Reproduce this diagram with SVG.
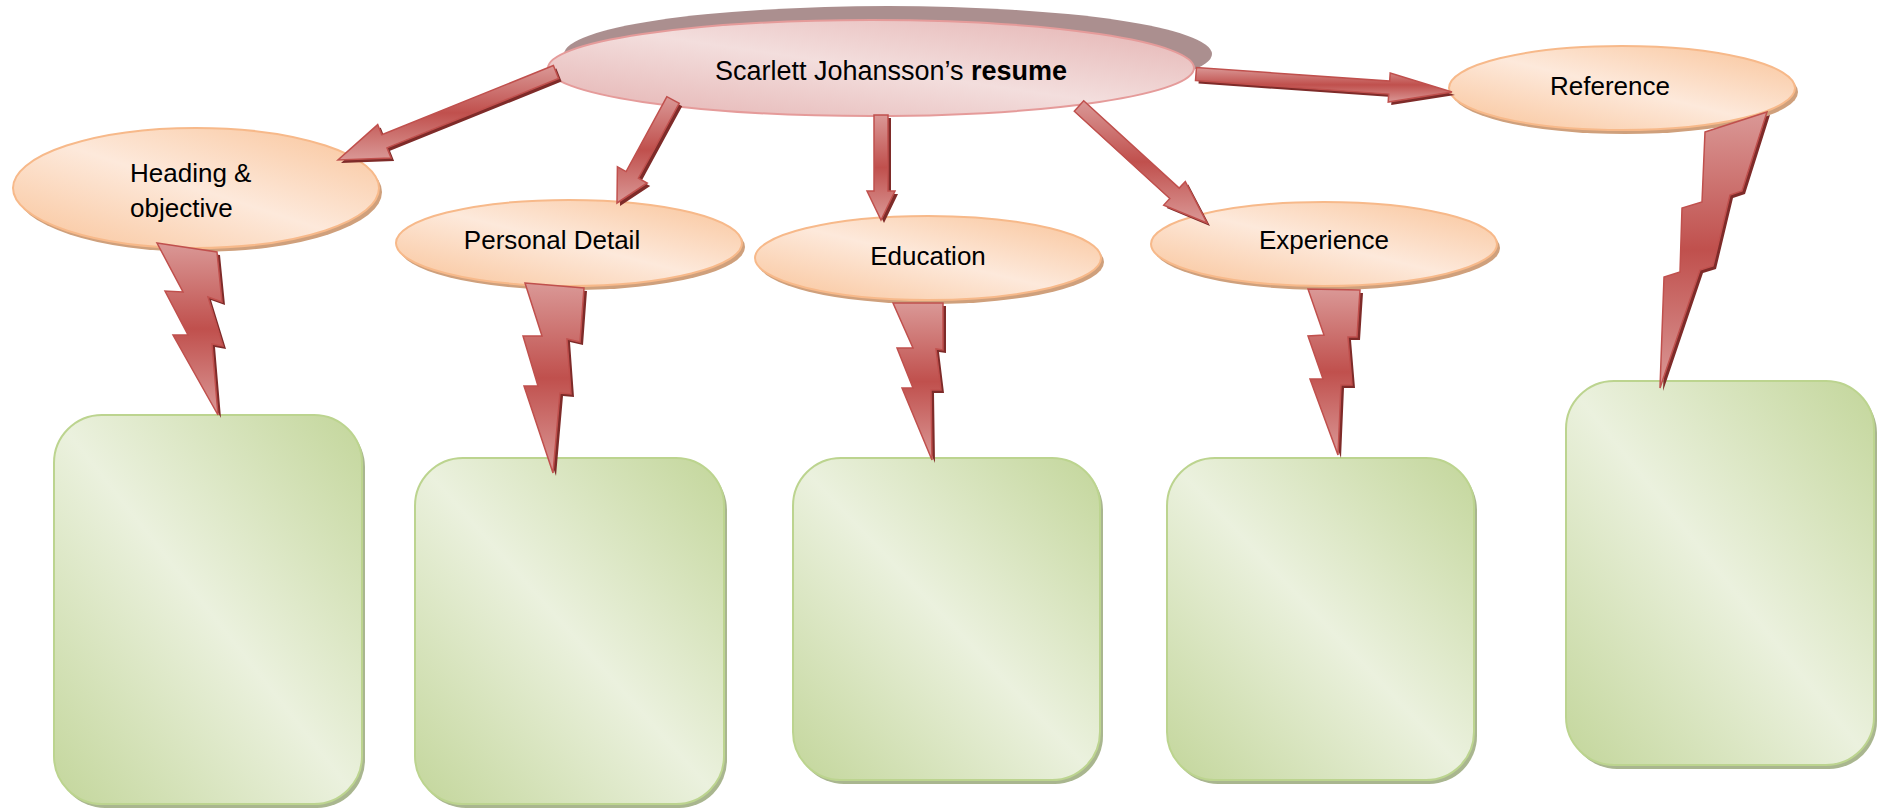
<svg xmlns="http://www.w3.org/2000/svg" width="1881" height="808" viewBox="0 0 1881 808">
<defs>
<linearGradient id="gOrange" x1="1" y1="0" x2="0" y2="1">
<stop offset="0" stop-color="#f9c398"/><stop offset="0.5" stop-color="#fde9db"/><stop offset="1" stop-color="#f9c398"/>
</linearGradient>
<linearGradient id="gGreen" x1="1" y1="0" x2="0" y2="1">
<stop offset="0" stop-color="#c3d69b"/><stop offset="0.5" stop-color="#ebf1de"/><stop offset="1" stop-color="#c3d69b"/>
</linearGradient>
<linearGradient id="gPink" x1="1" y1="0" x2="0" y2="1">
<stop offset="0" stop-color="#e4b1b0"/><stop offset="0.5" stop-color="#f3dedd"/><stop offset="1" stop-color="#e4b1b0"/>
</linearGradient>
<linearGradient id="gRed" x1="0" y1="0" x2="0" y2="1">
<stop offset="0" stop-color="#da9896"/><stop offset="0.5" stop-color="#c0504d"/><stop offset="1" stop-color="#da9896"/>
</linearGradient>
<style>
.oval{fill:url(#gOrange);stroke:#f7b98a;stroke-width:2}
.ovalsh{fill:#cfa07c}
.box{fill:url(#gGreen);stroke:#bcd48f;stroke-width:2}
.boxsh{fill:#a9b68f}
.red{fill:url(#gRed);stroke:#c0504d;stroke-width:1.5;stroke-linejoin:miter}
.redsh{fill:#7e2b29}
.lbl{font-family:"Liberation Sans",Arial,sans-serif;font-size:26px;fill:#000}
</style>
</defs>

<g id="node-main">
<ellipse cx="888" cy="54" rx="324" ry="48" fill="#ab8f8f"/>
<ellipse cx="871" cy="68" rx="323" ry="48" fill="url(#gPink)" stroke="#e59b9a" stroke-width="2"/>
<text x="891" y="80" text-anchor="middle" font-family="'Liberation Sans',Arial,sans-serif" font-size="27" fill="#000">Scarlett Johansson’s <tspan font-weight="bold">resume</tspan></text>
</g>

<g id="node-heading">
<ellipse class="ovalsh" cx="199" cy="192" rx="183" ry="60"/>
<ellipse class="oval" cx="196" cy="188" rx="183" ry="60"/>
<text class="lbl" x="130" y="182">Heading &amp;</text>
<text class="lbl" x="130" y="217">objective</text>
</g>

<g id="node-personal">
<ellipse class="ovalsh" cx="572" cy="247" rx="173" ry="43"/>
<ellipse class="oval" cx="569" cy="243" rx="173" ry="43"/>
<text class="lbl" x="552" y="249" text-anchor="middle">Personal Detail</text>
</g>

<g id="node-education">
<ellipse class="ovalsh" cx="931" cy="262" rx="173" ry="42"/>
<ellipse class="oval" cx="928" cy="258" rx="173" ry="42"/>
<text class="lbl" x="928" y="265" text-anchor="middle">Education</text>
</g>

<g id="node-experience">
<ellipse class="ovalsh" cx="1327" cy="248" rx="173" ry="42"/>
<ellipse class="oval" cx="1324" cy="244" rx="173" ry="42"/>
<text class="lbl" x="1324" y="249" text-anchor="middle">Experience</text>
</g>

<g id="node-reference">
<ellipse class="ovalsh" cx="1625" cy="92" rx="173" ry="42"/>
<ellipse class="oval" cx="1622" cy="88" rx="173" ry="42"/>
<text class="lbl" x="1610" y="95" text-anchor="middle">Reference</text>
</g>

<g id="box-heading">
<rect class="boxsh" x="57" y="419" width="308" height="389" rx="48"/>
<rect class="box" x="54" y="415" width="308" height="389" rx="48"/>
</g>
<g id="box-personal">
<rect class="boxsh" x="418" y="462" width="309" height="346" rx="48"/>
<rect class="box" x="415" y="458" width="309" height="346" rx="48"/>
</g>
<g id="box-education">
<rect class="boxsh" x="796" y="462" width="307" height="322" rx="48"/>
<rect class="box" x="793" y="458" width="307" height="322" rx="48"/>
</g>
<g id="box-experience">
<rect class="boxsh" x="1170" y="462" width="307" height="322" rx="48"/>
<rect class="box" x="1167" y="458" width="307" height="322" rx="48"/>
</g>
<g id="box-reference">
<rect class="boxsh" x="1569" y="385" width="308" height="384" rx="48"/>
<rect class="box" x="1566" y="381" width="308" height="384" rx="48"/>
</g>

<g id="connectors">
<g transform="translate(3,3)">
<polygon class="redsh" points="553.4,65.5 381.8,134.8 377.7,124.6 338,160 391.1,158 387,147.8 558.6,78.5"/>
<polygon class="redsh" points="666.9,96.7 626.1,171.6 617.4,166.8 617,203 647.2,183 638.4,178.2 679.2,103.3"/>
<polygon class="redsh" points="874,115 874,191 867,191 881,220 895,191 888,191 888,115"/>
<polygon class="redsh" points="1074.3,111.2 1169.8,198.5 1163.7,205.1 1207,223 1185.3,181.5 1179.2,188.1 1083.7,100.8"/>
<polygon class="redsh" points="1195.5,80.5 1388.7,94.1 1388.2,102.1 1452,92 1390.2,73.1 1389.7,81.1 1196.5,67.5"/>
<polygon class="redsh" points="157,243 217,252 222,302 208,297 223,346 212,344 218,415 173,335 188,335 165,291 183,292"/>
<polygon class="redsh" points="525,283 584,288 580,342 567,339 571,394 560,393 553,473 524,386 538,386 523,336 542,336"/>
<polygon class="redsh" points="893,303 943,303 943,350 936,349 941,390 931,390 932,460 902,388 913,388 897,348 913,348"/>
<polygon class="redsh" points="1308,289 1360,290 1357,337 1348,337 1352,385 1341,385 1338,455 1310,379 1323,379 1308,336 1324,335"/>
<polygon class="redsh" points="1705,132 1767,112 1742,191 1730,195 1713,266 1700,270 1660,388 1664,277 1680,272 1682,208 1702,202"/>
</g>
<polygon id="arrow-heading" class="red" points="553.4,65.5 381.8,134.8 377.7,124.6 338,160 391.1,158 387,147.8 558.6,78.5"/>
<polygon id="arrow-personal" class="red" points="666.9,96.7 626.1,171.6 617.4,166.8 617,203 647.2,183 638.4,178.2 679.2,103.3"/>
<polygon id="arrow-education" class="red" points="874,115 874,191 867,191 881,220 895,191 888,191 888,115"/>
<polygon id="arrow-experience" class="red" points="1074.3,111.2 1169.8,198.5 1163.7,205.1 1207,223 1185.3,181.5 1179.2,188.1 1083.7,100.8"/>
<polygon id="arrow-reference" class="red" points="1195.5,80.5 1388.7,94.1 1388.2,102.1 1452,92 1390.2,73.1 1389.7,81.1 1196.5,67.5"/>
<polygon id="bolt-heading" class="red" points="157,243 217,252 222,302 208,297 223,346 212,344 218,415 173,335 188,335 165,291 183,292"/>
<polygon id="bolt-personal" class="red" points="525,283 584,288 580,342 567,339 571,394 560,393 553,473 524,386 538,386 523,336 542,336"/>
<polygon id="bolt-education" class="red" points="893,303 943,303 943,350 936,349 941,390 931,390 932,460 902,388 913,388 897,348 913,348"/>
<polygon id="bolt-experience" class="red" points="1308,289 1360,290 1357,337 1348,337 1352,385 1341,385 1338,455 1310,379 1323,379 1308,336 1324,335"/>
<polygon id="bolt-reference" class="red" points="1705,132 1767,112 1742,191 1730,195 1713,266 1700,270 1660,388 1664,277 1680,272 1682,208 1702,202"/>
</g>
</svg>
